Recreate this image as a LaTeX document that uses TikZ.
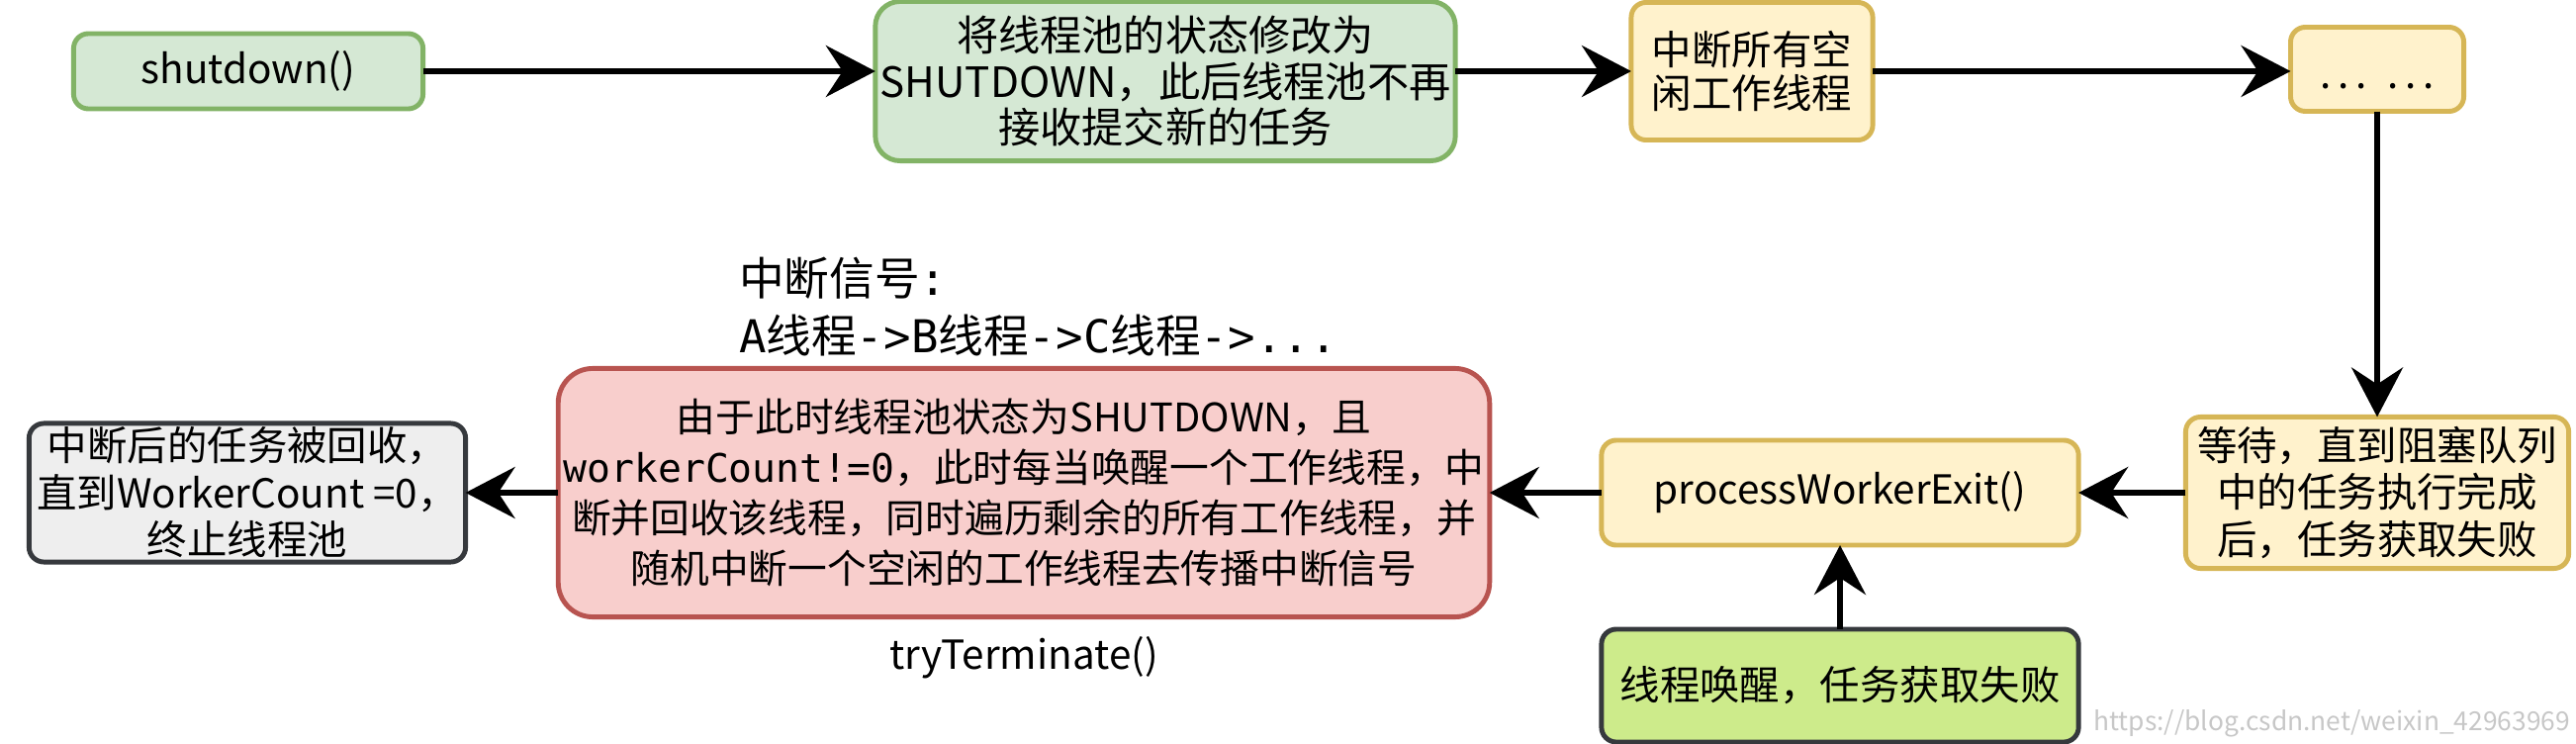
\documentclass[tikz,border=0pt]{standalone}
\usepackage{fontspec}
\setmainfont{Noto Sans CJK SC}
\newfontfamily\mono{DejaVu Sans Mono}
\usetikzlibrary{arrows.meta,positioning}
\definecolor{greenfill}{HTML}{D5E8D4}
\definecolor{greenline}{HTML}{82B366}
\definecolor{yellowfill}{HTML}{FFF2CC}
\definecolor{yellowline}{HTML}{D6B656}
\definecolor{redfill}{HTML}{F8CECC}
\definecolor{redline}{HTML}{B85450}
\definecolor{grayfill}{HTML}{EEEEEE}
\definecolor{darkline}{HTML}{36393D}
\definecolor{limefill}{HTML}{CDEB8B}

\begin{document}
\begin{tikzpicture}[x=0.01cm,y=-0.01cm,
    every node/.style={font=\fontsize{11.5}{13.5}\selectfont,align=center,inner sep=0pt,outer sep=0pt},
    box/.style={draw,rounded corners=0.15cm,line width=1.4pt},
    greenbox/.style={box,draw=greenline,fill=greenfill},
    yellowbox/.style={box,draw=yellowline,fill=yellowfill},
    redbox/.style={box,draw=redline,fill=redfill,rounded corners=0.35cm},
    graybox/.style={box,draw=darkline,fill=grayfill},
    limebox/.style={box,draw=darkline,fill=limefill},
    arr/.style={line width=1.5pt,-{Stealth[length=0.5cm,width=0.52cm,inset=0.17cm]}}]
    \useasboundingbox (0,0) rectangle (2604,752);
    % top row
    \node[greenbox,minimum width=3.53cm,minimum height=0.76cm] (shutdown) at (251,72) {shutdown()};
    \node[greenbox,minimum width=5.86cm,minimum height=1.61cm,rounded corners=0.25cm,
          font=\fontsize{12}{13.2}\selectfont] (setstate) at (1178,82)
          {将线程池的状态修改为\\SHUTDOWN，此后线程池不再\\接收提交新的任务};
    \node[yellowbox,minimum width=2.44cm,minimum height=1.39cm,
          font=\fontsize{11.5}{12.5}\selectfont] (intidle) at (1771,72) {中断所有空\\闲工作线程};
    \node[yellowbox,minimum width=1.75cm,minimum height=0.85cm] (dots) at (2403,70)
          {\rule{0pt}{1em}.\,.\,.\enspace.\,.\,.};
    % bottom row
    \node[yellowbox,minimum width=3.87cm,minimum height=1.53cm] (waitq) at (2403,498)
          {等待，直到阻塞队列\\中的任务执行完成\\后，任务获取失败};
    \node[yellowbox,minimum width=4.82cm,minimum height=1.06cm] (exit) at (1860,498) {processWorkerExit()};
    \node[limebox,minimum width=4.82cm,minimum height=1.14cm] (wakeup) at (1860,693) {线程唤醒，任务获取失败};
    \node[redbox,minimum width=9.41cm,minimum height=2.51cm,
          font=\fontsize{11.3}{14.5}\selectfont] (tryterm) at (1035,498)
          {由于此时线程池状态为SHUTDOWN，且\\{\mono workerCount!=0}，此时每当唤醒一个工作线程，中\\断并回收该线程，同时遍历剩余的所有工作线程，并\\随机中断一个空闲的工作线程去传播中断信号};
    \node[graybox,minimum width=4.41cm,minimum height=1.40cm] (recycle) at (250,498)
          {中断后的任务被回收，\\直到WorkerCount =0，\\终止线程池};
    % labels
    \node[anchor=west,align=left,font=\fontsize{13}{16.4}\selectfont] (signal) at (747,310)
          {中断信号{\mono :}\\{\mono A}线程{\mono ->B}线程{\mono ->C}线程{\mono ->...}};
    \node[below=0.2cm of tryterm] (trylabel) {tryTerminate()};
    \node[anchor=east,text=black!22,font=\fontsize{7.5}{9}\selectfont] (watermark) at (2598,731)
          {https://blog.csdn.net/weixin\_42963969};
    % arrows
    \draw[arr] (shutdown.east) -- (shutdown -| setstate.west);
    \draw[arr] (setstate.east |- intidle) -- (intidle.west);
    \draw[arr] (intidle.east) -- (intidle.east -| dots.west);
    \draw[arr] (dots.south) -- (waitq.north);
    \draw[arr] (waitq.west) -- (exit.east);
    \draw[arr] (wakeup.north) -- (exit.south);
    \draw[arr] (exit.west) -- (tryterm.east);
    \draw[arr] (tryterm.west) -- (recycle.east);
\end{tikzpicture}
\end{document}
